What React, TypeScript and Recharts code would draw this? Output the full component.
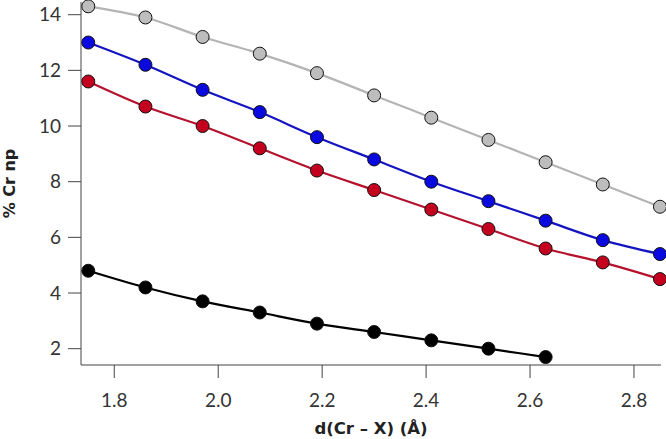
import { LineChart, Line, XAxis, YAxis, Label } from 'recharts';

const distances = [1.75, 1.86, 1.97, 2.08, 2.19, 2.3, 2.41, 2.52, 2.63, 2.74, 2.85];
const grayValues = [14.3, 13.9, 13.2, 12.6, 11.9, 11.1, 10.3, 9.5, 8.7, 7.9, 7.1];
const blueValues = [13.0, 12.2, 11.3, 10.5, 9.6, 8.8, 8.0, 7.3, 6.6, 5.9, 5.4];
const redValues = [11.6, 10.7, 10.0, 9.2, 8.4, 7.7, 7.0, 6.3, 5.6, 5.1, 4.5];
const blackValues = [4.8, 4.2, 3.7, 3.3, 2.9, 2.6, 2.3, 2.0, 1.7];

const xTicks = [1.8, 2.0, 2.2, 2.4, 2.6, 2.8];
const yTicks = [2, 4, 6, 8, 10, 12, 14];

const data = distances.map((d, i) => ({
  d,
  gray: grayValues[i],
  blue: blueValues[i],
  red: redValues[i],
  black: blackValues[i] ?? null,
}));

const tickFont = 'Lato, "Open Sans", sans-serif';
const labelFont = '"DejaVu Sans", sans-serif';
const axisColor = '#444';

const series = [
  { key: 'gray', stroke: '#b4b4b4', fill: '#bdbdbd' },
  { key: 'blue', stroke: '#1414c0', fill: '#0a0ae0' },
  { key: 'red', stroke: '#b5122e', fill: '#c4001f' },
  { key: 'black', stroke: '#000000', fill: '#000000' },
];

export default function App() {
  return (
    <div style={{ position: 'absolute', left: 0, top: 0, background: '#fff' }}>
      <LineChart width={666} height={439} data={data} margin={{ top: 2, right: 5, left: 0, bottom: 0 }}>
        <XAxis
          dataKey="d"
          type="number"
          domain={[1.736, 2.852]}
          ticks={xTicks}
          tickFormatter={(v: number) => v.toFixed(1)}
          height={74}
          stroke={axisColor}
          tickLine={{ stroke: axisColor }}
          tickSize={13}
          tick={{ fill: '#333', fontSize: 19, fontFamily: tickFont }}
          tickMargin={16}
        >
          <Label
            value="d(Cr – X) (Å)"
            position="insideBottom"
            offset={5}
            style={{ fill: '#222', fontSize: 16.5, fontWeight: 700, fontFamily: labelFont }}
          />
        </XAxis>
        <YAxis
          type="number"
          domain={[1.414, 14.456]}
          ticks={yTicks}
          width={81}
          stroke={axisColor}
          tickLine={{ stroke: axisColor }}
          tickSize={13}
          tick={{ fill: '#333', fontSize: 19, fontFamily: tickFont }}
          tickMargin={7}
        >
          <Label
            value="% Cr np"
            angle={-90}
            position="insideLeft"
            offset={9}
            style={{ fill: '#222', fontSize: 16, fontWeight: 700, fontFamily: labelFont, textAnchor: 'middle' }}
          />
        </YAxis>
        {series.map((s) => (
          <Line
            key={s.key}
            dataKey={s.key}
            type="monotone"
            stroke={s.stroke}
            strokeWidth={2.2}
            dot={{ r: 6.5, fill: s.fill, stroke: '#111', strokeWidth: 1 }}
            activeDot={false}
            isAnimationActive={false}
            connectNulls={false}
          />
        ))}
      </LineChart>
    </div>
  );
}
